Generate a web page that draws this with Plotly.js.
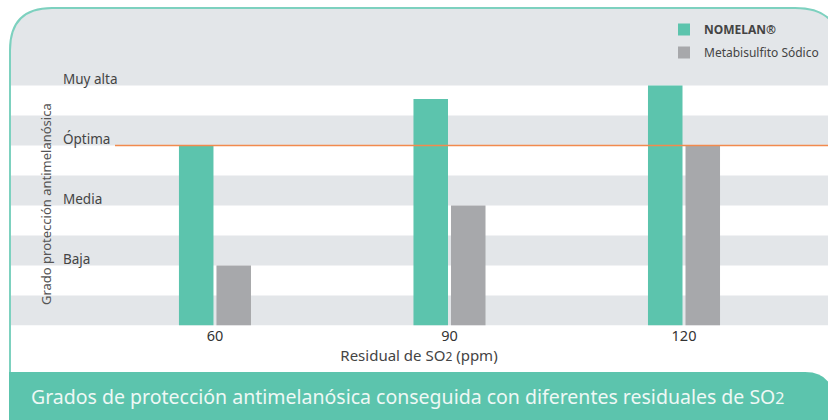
<!DOCTYPE html>
<html>
<head>
<meta charset="utf-8">
<script src="https://cdn.plot.ly/plotly-3.0.1.min.js"></script>
<style>
  html, body { margin: 0; padding: 0; background: #ffffff; }
  #chart { width: 828px; height: 420px; }
</style>
</head>
<body>
<div id="chart"></div>
<script>
// ---- data ----
const categories = ['60', '90', '120'];
const nomelanValues = [6, 7.55, 8];
const metabisulfitoValues = [2, 4, 6];
const levelValues = [2, 4, 6, 8];
const levelLabels = ['Baja', 'Media', 'Óptima', 'Muy alta'];
const optimaLevel = 6;
const seriesNames = ['<b>NOMELAN®</b>', 'Metabisulfito Sódico'];
const xTitle = 'Residual de SO<span style="font-size:12px">2</span> (ppm)';
const yTitle = 'Grado protección antimelanósica';
const footerText = 'Grados de protección antimelanósica conseguida con diferentes residuales de SO<span style="font-size:16px">2</span>';

// ---- geometry helpers (figure pixel -> paper fraction, margins are 0) ----
const W = 828, H = 420;
const px = x => x / W;
const py = y => 1 - y / H;
const baseY = 325.5, topY = 8, unit = 30;

const teal = '#5cc4ad';
const grayBar = '#a7a8ab';
const band = '#e3e6e9';
const font = 'Noto Sans, Open Sans, sans-serif';

const traces = [
  { type: 'bar', name: seriesNames[0], x: categories, y: nomelanValues, legendgroup: 'a',
    marker: { color: teal, line: { width: 0 } } },
  { type: 'bar', name: seriesNames[1], x: categories, y: metabisulfitoValues, legendgroup: 'b',
    marker: { color: grayBar, line: { width: 0 } } }
];

const shapes = [];
// alternating horizontal bands
[[0, 1], [2, 3], [4, 5], [6, 7]].forEach(([a, b]) => {
  shapes.push({ type: 'rect', xref: 'paper', yref: 'y', x0: px(10), x1: 1, y0: a, y1: b,
    fillcolor: band, line: { width: 0 }, layer: 'below' });
});
// top band with rounded corners (header area)
const topBandBottom = baseY - 8 * unit;
shapes.push({ type: 'path', xref: 'paper', yref: 'paper', layer: 'below',
  path: `M ${px(10)},${py(topBandBottom)} L ${px(10)},${py(50)} Q ${px(10)},${py(8)} ${px(52)},${py(8)} ` +
        `L ${px(795)},${py(8)} Q ${px(840)},${py(8)} ${px(840)},${py(50)} L ${px(840)},${py(topBandBottom)} Z`,
  fillcolor: band, line: { width: 0 } });
// frame border
shapes.push({ type: 'path', xref: 'paper', yref: 'paper', layer: 'above',
  path: `M ${px(10)},${py(380)} L ${px(10)},${py(50)} Q ${px(10)},${py(8)} ${px(52)},${py(8)} ` +
        `L ${px(795)},${py(8)} Q ${px(840)},${py(8)} ${px(840)},${py(50)}`,
  line: { color: '#7dd1bf', width: 2 } });
// footer band
shapes.push({ type: 'path', xref: 'paper', yref: 'paper', layer: 'above',
  path: `M ${px(9)},${py(372)} L ${px(805)},${py(372)} Q ${px(832)},${py(372)} ${px(834)},${py(400)} ` +
        `L ${px(834)},${py(421)} L ${px(9)},${py(421)} Z`,
  fillcolor: teal, line: { width: 0 } });
// optimum reference line
shapes.push({ type: 'line', xref: 'paper', yref: 'y', x0: px(115), x1: 1, y0: optimaLevel, y1: optimaLevel,
  line: { color: '#f28a4e', width: 1.6 }, layer: 'above' });

const annotations = levelValues.map((v, i) => ({
  xref: 'paper', yref: 'y', x: px(61), y: v, xanchor: 'left', yanchor: 'bottom',
  text: levelLabels[i], showarrow: false, yshift: -4.5,
  font: { family: font, size: 13.5, color: '#444' }
}));
annotations.push({
  xref: 'paper', yref: 'paper', x: px(35), y: py(204), textangle: -90,
  text: yTitle, showarrow: false, font: { family: font, size: 13, color: '#555' }
});
annotations.push({
  xref: 'paper', yref: 'paper', x: px(29), y: py(396), xanchor: 'left', yanchor: 'middle',
  text: footerText, showarrow: false, font: { family: font, size: 19.5, color: '#eef8f5' }
});

const layout = {
  width: W, height: H,
  margin: { l: 0, r: 0, t: 0, b: 0 },
  paper_bgcolor: '#ffffff', plot_bgcolor: 'rgba(0,0,0,0)',
  barmode: 'group', bargap: 0.68, bargroupgap: 0.08,
  xaxis: {
    domain: [px(10), 1],
    type: 'category',
    range: [-0.874, 2.614],
    showgrid: false, zeroline: false, showline: false, ticks: '',
    tickfont: { family: font, size: 14.5, color: '#333' },
    title: { text: xTitle, standoff: 5, font: { family: font, size: 15, color: '#444' } },
    fixedrange: true
  },
  yaxis: {
    domain: [py(baseY), py(topY)],
    range: [0, (baseY - topY) / unit],
    showgrid: false, zeroline: false, showline: false, showticklabels: false, ticks: '',
    fixedrange: true
  },
  showlegend: true,
  legend: {
    x: px(664), y: py(15), xanchor: 'left', yanchor: 'top',
    bgcolor: 'rgba(0,0,0,0)', borderwidth: 0,
    font: { family: font, size: 12, color: '#444' },
    tracegroupgap: 4, traceorder: 'grouped'
  },
  shapes: shapes,
  annotations: annotations
};

Plotly.newPlot('chart', traces, layout, { staticPlot: true, displayModeBar: false });
</script>
</body>
</html>
